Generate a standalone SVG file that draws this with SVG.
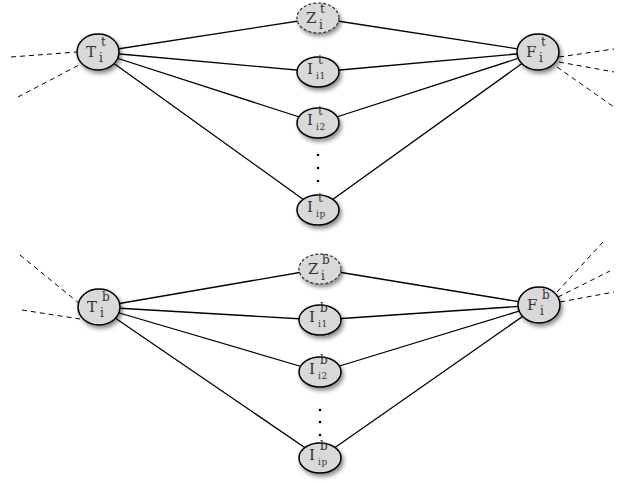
<svg xmlns="http://www.w3.org/2000/svg" width="628" height="483" viewBox="0 0 628 483">
<defs>
<filter id="sh" x="-30%" y="-30%" width="170%" height="180%">
<feDropShadow dx="2" dy="3" stdDeviation="2" flood-color="#000" flood-opacity="0.45"/>
</filter>
<style>
.n{fill:#d9d9d9;stroke:#000;stroke-width:1.5;filter:url(#sh)}
.z{fill:#d9d9d9;stroke:#333;stroke-width:1.2;stroke-dasharray:3 2;filter:url(#sh)}
.e{stroke:#000;stroke-width:1.3;fill:none}
.d{stroke:#000;stroke-width:1;fill:none;stroke-dasharray:5 4}
text{font-family:"DejaVu Serif","Liberation Serif",serif;fill:#333}
.b{font-size:15px}
.p{font-size:12px}
.s{font-size:12px}
.ss{font-size:9px;letter-spacing:0.5px}
.dot{fill:#000}
</style>
</defs>
<g id="connectors">
<line class="d" x1="11" y1="57" x2="77" y2="52"/>
<line class="d" x1="18" y1="97" x2="79" y2="65"/>
<line class="d" x1="559" y1="57" x2="614" y2="49"/>
<line class="d" x1="559" y1="62" x2="614" y2="72"/>
<line class="d" x1="557" y1="67" x2="614" y2="107"/>
<path class="e" d="M98 52L318 18M98 52L318 72M98 52L318 123M98 52L318 210M538 52L318 18M538 52L318 72M538 52L318 123M538 52L318 210"/>
<line class="d" x1="20" y1="255" x2="80" y2="304"/>
<line class="d" x1="22" y1="310" x2="80" y2="319"/>
<line class="d" x1="557" y1="292" x2="603" y2="242"/>
<line class="d" x1="558" y1="297" x2="610" y2="271"/>
<line class="d" x1="560" y1="302" x2="614" y2="292"/>
<path class="e" d="M99 307L320 269M99 307L320 320M99 307L320 372M99 307L320 458M539 305L320 269M539 305L320 320M539 305L320 372M539 305L320 458"/>
</g>
<g id="Tt"><ellipse class="n" cx="98" cy="52" rx="21" ry="18"/><text class="b" x="86" y="57">T</text><text class="p" x="101" y="46">t</text><text class="s" x="99" y="62">i</text></g>
<g id="Ft"><ellipse class="n" cx="538" cy="52" rx="21" ry="18"/><text class="b" x="526" y="57">F</text><text class="p" x="541" y="46">t</text><text class="s" x="539" y="62">i</text></g>
<g id="Zt"><ellipse class="z" cx="318" cy="18" rx="21" ry="15"/><text class="b" x="306" y="23">Z</text><text class="p" x="320" y="13">t</text><text class="s" x="319" y="29">i</text></g>
<g id="It1"><ellipse class="n" cx="318" cy="72" rx="21" ry="15"/><text class="b" x="307" y="74">I</text><text class="p" x="318" y="64">t</text><text class="ss" x="316" y="79">i1</text></g>
<g id="It2"><ellipse class="n" cx="318" cy="123" rx="21" ry="15"/><text class="b" x="307" y="125">I</text><text class="p" x="318" y="115">t</text><text class="ss" x="316" y="130">i2</text></g>
<g id="dotsT"><circle class="dot" cx="318" cy="155" r="1.3"/><circle class="dot" cx="318" cy="168" r="1.3"/><circle class="dot" cx="318" cy="181" r="1.3"/></g>
<g id="Itp"><ellipse class="n" cx="318" cy="210" rx="21" ry="15"/><text class="b" x="307" y="212">I</text><text class="p" x="318" y="202">t</text><text class="ss" x="316" y="217">ip</text></g>
<g id="Tb"><ellipse class="n" cx="99" cy="307" rx="21" ry="18"/><text class="b" x="87" y="312">T</text><text class="p" x="102" y="301">b</text><text class="s" x="100" y="317">i</text></g>
<g id="Fb"><ellipse class="n" cx="539" cy="305" rx="21" ry="18"/><text class="b" x="527" y="310">F</text><text class="p" x="542" y="299">b</text><text class="s" x="540" y="315">i</text></g>
<g id="Zb"><ellipse class="z" cx="320" cy="269" rx="21" ry="15"/><text class="b" x="308" y="274">Z</text><text class="p" x="322" y="264">b</text><text class="s" x="321" y="280">i</text></g>
<g id="Ib1"><ellipse class="n" cx="320" cy="320" rx="21" ry="15"/><text class="b" x="309" y="322">I</text><text class="p" x="320" y="312">b</text><text class="ss" x="318" y="327">i1</text></g>
<g id="Ib2"><ellipse class="n" cx="320" cy="372" rx="21" ry="15"/><text class="b" x="309" y="374">I</text><text class="p" x="320" y="364">b</text><text class="ss" x="318" y="379">i2</text></g>
<g id="dotsB"><circle class="dot" cx="320" cy="410" r="1.3"/><circle class="dot" cx="320" cy="422" r="1.3"/><circle class="dot" cx="320" cy="435" r="1.3"/></g>
<g id="Ibp"><ellipse class="n" cx="320" cy="458" rx="21" ry="15"/><text class="b" x="309" y="460">I</text><text class="p" x="320" y="450">b</text><text class="ss" x="318" y="465">ip</text></g>
</svg>
